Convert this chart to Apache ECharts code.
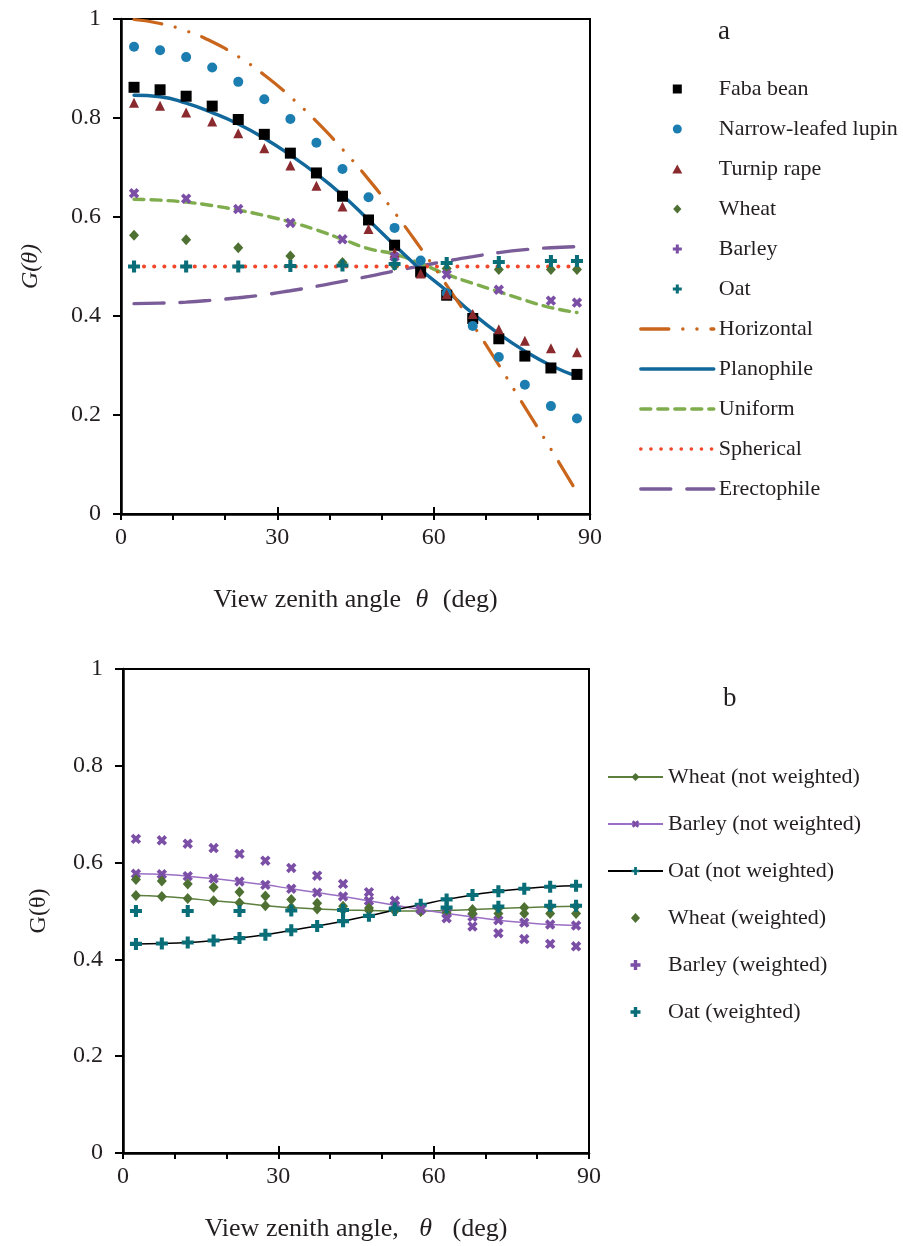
<!DOCTYPE html>
<html>
<head>
<meta charset="utf-8">
<script src="https://cdn.jsdelivr.net/npm/echarts@6/dist/echarts.min.js"></script>
<style>html,body{margin:0;padding:0;background:#fff}#c{width:903px;height:1246px}</style>
</head>
<body>
<div id="c"></div>
<script>
// ---------- data ----------
const angles = [2.5, 7.5, 12.5, 17.5, 22.5, 27.5, 32.5, 37.5, 42.5, 47.5, 52.5, 57.5, 62.5, 67.5, 72.5, 77.5, 82.5, 87.5];
const angles10 = [2.5, 12.5, 22.5, 32.5, 42.5, 52.5, 62.5, 72.5, 82.5, 87.5];
const xTicks = [0, 30, 60, 90];

// panel a: measured
const fabaBean = [0.862, 0.857, 0.844, 0.824, 0.797, 0.767, 0.729, 0.689, 0.642, 0.594, 0.543, 0.489, 0.442, 0.395, 0.354, 0.319, 0.295, 0.282];
const narrowLupin = [0.944, 0.937, 0.923, 0.902, 0.873, 0.838, 0.798, 0.750, 0.697, 0.640, 0.578, 0.512, 0.446, 0.380, 0.317, 0.261, 0.218, 0.193];
const turnipRape = [0.831, 0.825, 0.811, 0.793, 0.769, 0.739, 0.704, 0.663, 0.621, 0.576, 0.528, 0.486, 0.444, 0.404, 0.373, 0.350, 0.335, 0.327];
const wheatA = [0.563, 0.554, 0.538, 0.521, 0.508, 0.502, 0.496, 0.494, 0.494, 0.494];
const barleyA = [0.648, 0.637, 0.616, 0.588, 0.555, 0.520, 0.484, 0.453, 0.431, 0.427];
const oatA = [0.500, 0.500, 0.500, 0.501, 0.502, 0.505, 0.507, 0.509, 0.511, 0.511];

// panel a: theoretical distributions
const horizontal = [0.999, 0.991, 0.976, 0.954, 0.924, 0.887, 0.843, 0.793, 0.737, 0.676, 0.609, 0.537, 0.462, 0.383, 0.301, 0.216, 0.131, 0.044];
const planophile = [0.846, 0.843, 0.830, 0.811, 0.788, 0.759, 0.725, 0.687, 0.644, 0.594, 0.543, 0.494, 0.451, 0.405, 0.364, 0.329, 0.300, 0.278];
const uniform = [0.636, 0.634, 0.630, 0.623, 0.614, 0.603, 0.590, 0.574, 0.555, 0.536, 0.525, 0.506, 0.484, 0.466, 0.449, 0.432, 0.417, 0.407];
const spherical = [0.5, 0.5, 0.5, 0.5, 0.5, 0.5, 0.5, 0.5, 0.5, 0.5, 0.5, 0.5, 0.5, 0.5, 0.5, 0.5, 0.5, 0.5];
const erectophile = [0.425, 0.426, 0.428, 0.432, 0.437, 0.443, 0.451, 0.460, 0.470, 0.480, 0.491, 0.501, 0.511, 0.520, 0.528, 0.534, 0.538, 0.540];

// panel b
const wheatNW = [0.532, 0.530, 0.526, 0.521, 0.517, 0.511, 0.507, 0.504, 0.502, 0.501, 0.500, 0.500, 0.501, 0.503, 0.505, 0.507, 0.509, 0.510];
const barleyNW = [0.577, 0.576, 0.572, 0.567, 0.561, 0.554, 0.546, 0.538, 0.530, 0.521, 0.512, 0.503, 0.495, 0.488, 0.481, 0.476, 0.472, 0.470];
const oatNW = [0.432, 0.433, 0.435, 0.439, 0.444, 0.451, 0.460, 0.469, 0.479, 0.490, 0.502, 0.513, 0.524, 0.533, 0.541, 0.546, 0.550, 0.552];
const wheatW = [0.565, 0.562, 0.556, 0.549, 0.539, 0.531, 0.524, 0.516, 0.510, 0.506, 0.502, 0.499, 0.496, 0.495, 0.495, 0.495, 0.495, 0.495];
const barleyW = [0.649, 0.646, 0.639, 0.630, 0.618, 0.604, 0.589, 0.573, 0.556, 0.539, 0.521, 0.503, 0.485, 0.468, 0.454, 0.442, 0.432, 0.427];
const oatW = [0.500, 0.500, 0.500, 0.501, 0.502, 0.505, 0.507, 0.509, 0.511, 0.511];

// ---------- helpers ----------
const zip = (xs, ys) => xs.map((x, i) => [x, ys[i]]);
const FONT = 'Liberation Serif';
const TXT = '#231f20';
const PLUS = 'path://M3.3,0H6.7V3.3H10V6.7H6.7V10H3.3V6.7H0V3.3H3.3Z';
const SQUARE = 'path://M0,0H10V10H0Z';
const TRI = 'path://M5,0L10,9H0Z';
const DIAM = 'path://M5,0L10,5.5L5,11L0,5.5Z';

const C = {
  faba: '#000000', lupin: '#1b7db0', turnip: '#8a2a2e', wheat: '#4e7133', barley: '#7b4fa6', oat: '#0a6e78',
  horiz: '#c9661c', plano: '#13689b', unif: '#7fad4e', spher: '#f2472a', erect: '#7a5c98',
  wheatLine: '#5c7f3d', barleyLine: '#9a6fc4', oatLine: '#000000'
};

const richFor = pad => ({ i: { fontFamily: FONT, fontStyle: 'italic', fontSize: 26, color: TXT, padding: [0, pad, 0, pad] } });

function xAxisMain(gi, nameText, gap, pad) {
  return {
    gridIndex: gi, type: 'value', min: 0, max: 90, interval: 10,
    name: nameText, nameLocation: 'middle', nameGap: gap,
    nameTextStyle: { fontFamily: FONT, fontSize: 26, color: TXT, rich: richFor(pad) },
    axisLine: { show: true, lineStyle: { color: '#000', width: 2.5 } },
    axisTick: { show: true, length: 6, lineStyle: { color: '#000', width: 2 } },
    axisLabel: { margin: 12, fontFamily: FONT, fontSize: 24, color: TXT,
      formatter: v => (xTicks.indexOf(v) >= 0 ? String(v) : '') },
    splitLine: { show: false }
  };
}
function xAxisMajorInside(gi) {
  return {
    gridIndex: gi, type: 'value', min: 0, max: 90, interval: 30, position: 'bottom',
    axisLine: { show: false }, axisLabel: { show: false },
    axisTick: { show: true, inside: true, length: 7, lineStyle: { color: '#000', width: 2 } },
    splitLine: { show: false }
  };
}
function yAxisMain(gi, nameText, italic, gap) {
  return {
    gridIndex: gi, type: 'value', min: 0, max: 1, interval: 0.2,
    name: nameText, nameLocation: 'middle', nameGap: gap, nameRotate: 90,
    nameTextStyle: { fontFamily: FONT, fontSize: 24, color: TXT, fontStyle: italic ? 'italic' : 'normal' },
    axisLine: { show: true, lineStyle: { color: '#000', width: 2.5 } },
    axisTick: { show: true, length: 8, lineStyle: { color: '#000', width: 2 } },
    axisLabel: { margin: 20, fontFamily: FONT, fontSize: 24, color: TXT, formatter: v => String(+v.toFixed(1)) },
    splitLine: { show: false }
  };
}

function scatter(name, xa, data, sym, size, color, extra) {
  return Object.assign({
    name, type: 'scatter', xAxisIndex: xa, yAxisIndex: xa === 0 ? 0 : 1,
    data, symbol: sym, symbolSize: size, itemStyle: { color, opacity: 1 }, z: 5
  }, extra || {});
}
function theoLine(name, data, color, dash, width) {
  return {
    name, type: 'line', xAxisIndex: 0, yAxisIndex: 0, data, smooth: true, showSymbol: false, symbol: 'none',
    lineStyle: { color, width: width || 3.2, type: dash, cap: 'round' }, itemStyle: { color }, z: 3
  };
}
const lineLegend = (name, w) => ({ name, itemStyle: { opacity: 0 }, lineStyle: { width: w, cap: 'round' } });

const option = {
  animation: false,
  backgroundColor: '#fff',
  title: [
    { text: 'a', left: 713, top: 13, textStyle: { fontFamily: FONT, fontSize: 27, fontWeight: 'normal', color: TXT } },
    { text: 'b', left: 718, top: 680, textStyle: { fontFamily: FONT, fontSize: 27, fontWeight: 'normal', color: TXT } }
  ],
  grid: [
    { left: 121, right: 313, top: 19, height: 495, show: true, borderColor: '#000', borderWidth: 2, backgroundColor: 'transparent' },
    { left: 123, right: 314, top: 669, height: 484, show: true, borderColor: '#000', borderWidth: 2, backgroundColor: 'transparent' }
  ],
  xAxis: [
    xAxisMain(0, 'View zenith angle {i|θ} (deg)', 73, 8),
    xAxisMain(1, 'View zenith angle, {i|θ} (deg)', 63, 14),
    xAxisMajorInside(0),
    xAxisMajorInside(1)
  ],
  yAxis: [
    yAxisMain(0, 'G(θ)', true, 78),
    yAxisMain(1, 'G(θ)', false, 72)
  ],
  legend: [
    {
      orient: 'vertical', left: 634, top: 73, itemWidth: 73, itemHeight: 9, itemGap: 18,
      textStyle: { fontFamily: FONT, fontSize: 22, color: TXT, lineHeight: 22 },
      data: [
        { name: 'Faba bean', icon: SQUARE },
        { name: 'Narrow-leafed lupin' },
        { name: 'Turnip rape', icon: TRI },
        { name: 'Wheat', icon: DIAM },
        { name: 'Barley' },
        { name: 'Oat' },
        lineLegend('Horizontal', 3.4), lineLegend('Planophile', 3.4), lineLegend('Uniform', 3.4),
        lineLegend('Spherical', 3.6), lineLegend('Erectophile', 3.4)
      ]
    },
    {
      orient: 'vertical', left: 602, top: 761, itemWidth: 55, itemHeight: 10, itemGap: 25,
      textStyle: { fontFamily: FONT, fontSize: 22, color: TXT, lineHeight: 22 },
      data: ['Wheat (not weighted)', 'Barley (not weighted)', 'Oat (not weighted)',
             { name: 'Wheat (weighted)', icon: DIAM }, 'Barley (weighted)', 'Oat (weighted)']
    }
  ],
  series: [
    theoLine('Erectophile', zip(angles, erectophile), C.erect, [30, 16], 3.4),
    theoLine('Spherical', zip(angles, spherical), C.spher, [0.1, 10], 4),
    theoLine('Uniform', zip(angles, uniform), C.unif, [10, 7], 3.4),
    theoLine('Planophile', zip(angles, planophile), C.plano, 'solid', 3.4),
    theoLine('Horizontal', zip(angles, horizontal), C.horiz, [28, 14, 0.1, 14, 0.1, 14], 3.2),

    scatter('Faba bean', 0, zip(angles, fabaBean), SQUARE, 11, C.faba),
    scatter('Narrow-leafed lupin', 0, zip(angles, narrowLupin), 'circle', 10, C.lupin),
    scatter('Turnip rape', 0, zip(angles, turnipRape), TRI, [10, 10], C.turnip),
    scatter('Wheat', 0, zip(angles10, wheatA), DIAM, [10, 11], C.wheat),
    scatter('Barley', 0, zip(angles10, barleyA), PLUS, 11, C.barley, { symbolRotate: 45 }),
    scatter('Oat', 0, zip(angles10, oatA), PLUS, 12, C.oat),

    {
      name: 'Wheat (not weighted)', type: 'line', xAxisIndex: 1, yAxisIndex: 1, data: zip(angles, wheatNW),
      smooth: true, symbol: DIAM, symbolSize: [10, 11], showSymbol: true,
      lineStyle: { color: C.wheatLine, width: 1.5 }, itemStyle: { color: C.wheat }, z: 4
    },
    {
      name: 'Barley (not weighted)', type: 'line', xAxisIndex: 1, yAxisIndex: 1, data: zip(angles, barleyNW),
      smooth: true, symbol: PLUS, symbolRotate: 45, symbolSize: 11, showSymbol: true,
      lineStyle: { color: C.barleyLine, width: 1.5 }, itemStyle: { color: C.barley }, z: 4
    },
    {
      name: 'Oat (not weighted)', type: 'line', xAxisIndex: 1, yAxisIndex: 1, data: zip(angles, oatNW),
      smooth: true, symbol: PLUS, symbolSize: 12, showSymbol: true,
      lineStyle: { color: C.oatLine, width: 1.5 }, itemStyle: { color: C.oat }, z: 4
    },
    scatter('Wheat (weighted)', 1, zip(angles, wheatW), DIAM, [10, 11], C.wheat),
    scatter('Barley (weighted)', 1, zip(angles, barleyW), PLUS, 11, C.barley, { symbolRotate: 45 }),
    scatter('Oat (weighted)', 1, zip(angles10, oatW), PLUS, 12, C.oat)
  ]
};

const chart = echarts.init(document.getElementById('c'), null, { renderer: 'canvas' });
chart.setOption(option);
</script>
</body>
</html>
